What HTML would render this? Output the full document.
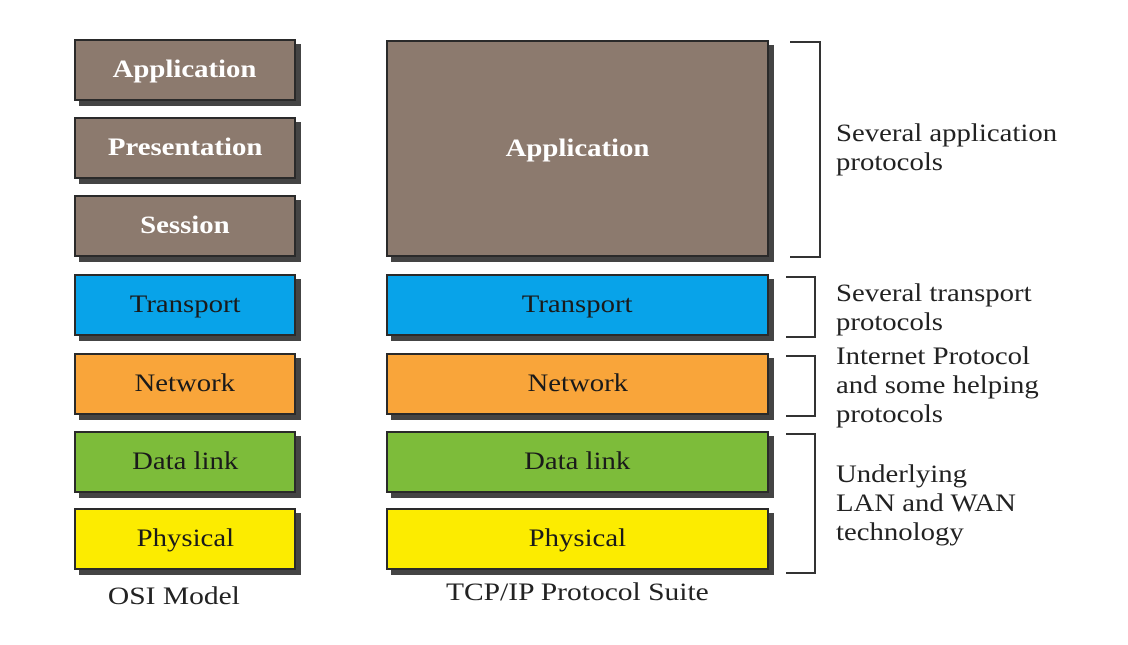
<!DOCTYPE html>
<html><head><meta charset="utf-8"><style>
body{margin:0;width:1128px;height:645px;background:#fff;position:relative;overflow:hidden;font-family:"Liberation Serif",serif}
.b{position:absolute;box-sizing:border-box;border:2px solid #2a2a2a;box-shadow:5px 5px 0 #444;display:flex;align-items:center;justify-content:center;font-size:25px;color:#1a1a1a}
.b span{display:inline-block;transform:scaleX(1.15)}
.br{background:#8c7a6e;color:#fff;font-weight:bold}
.bl{background:#08a3e9}.or{background:#f9a53a}.gr{background:#7dbc3a}.ye{background:#fcec00}
.k{position:absolute;box-sizing:border-box;border:2px solid #333;border-left:none}
.t{position:absolute;left:836px;font-size:25px;line-height:29px;color:#222;transform:scaleX(1.15);transform-origin:left top;white-space:nowrap}
.c{position:absolute;font-size:25px;color:#222;text-align:center}
.c span{display:inline-block;transform:scaleX(1.18)}
</style></head><body>
<div class="b br" style="left:74px;top:39px;width:222px;height:62px"><span>Application</span></div>
<div class="b br" style="left:74px;top:117px;width:222px;height:62px"><span>Presentation</span></div>
<div class="b br" style="left:74px;top:195px;width:222px;height:62px"><span>Session</span></div>
<div class="b bl" style="left:74px;top:274px;width:222px;height:62px"><span>Transport</span></div>
<div class="b or" style="left:74px;top:353px;width:222px;height:62px"><span>Network</span></div>
<div class="b gr" style="left:74px;top:431px;width:222px;height:62px"><span>Data link</span></div>
<div class="b ye" style="left:74px;top:508px;width:222px;height:62px"><span>Physical</span></div>

<div class="b br" style="left:386px;top:40px;width:383px;height:217px"><span>Application</span></div>
<div class="b bl" style="left:386px;top:274px;width:383px;height:62px"><span>Transport</span></div>
<div class="b or" style="left:386px;top:353px;width:383px;height:62px"><span>Network</span></div>
<div class="b gr" style="left:386px;top:431px;width:383px;height:62px"><span>Data link</span></div>
<div class="b ye" style="left:386px;top:508px;width:383px;height:62px"><span>Physical</span></div>

<div class="k" style="left:790px;top:41px;width:31px;height:217px"></div>
<div class="k" style="left:786px;top:276px;width:30px;height:62px"></div>
<div class="k" style="left:786px;top:355px;width:30px;height:62px"></div>
<div class="k" style="left:786px;top:433px;width:30px;height:141px"></div>

<div class="t" style="top:119px">Several application<br>protocols</div>
<div class="t" style="top:279px">Several transport<br>protocols</div>
<div class="t" style="top:342px">Internet Protocol<br>and some helping<br>protocols</div>
<div class="t" style="top:460px">Underlying<br>LAN and WAN<br>technology</div>

<div class="c" style="left:74px;width:200px;top:583px"><span>OSI Model</span></div>
<div class="c" style="left:386px;width:383px;top:579px"><span>TCP/IP Protocol Suite</span></div>
</body></html>
